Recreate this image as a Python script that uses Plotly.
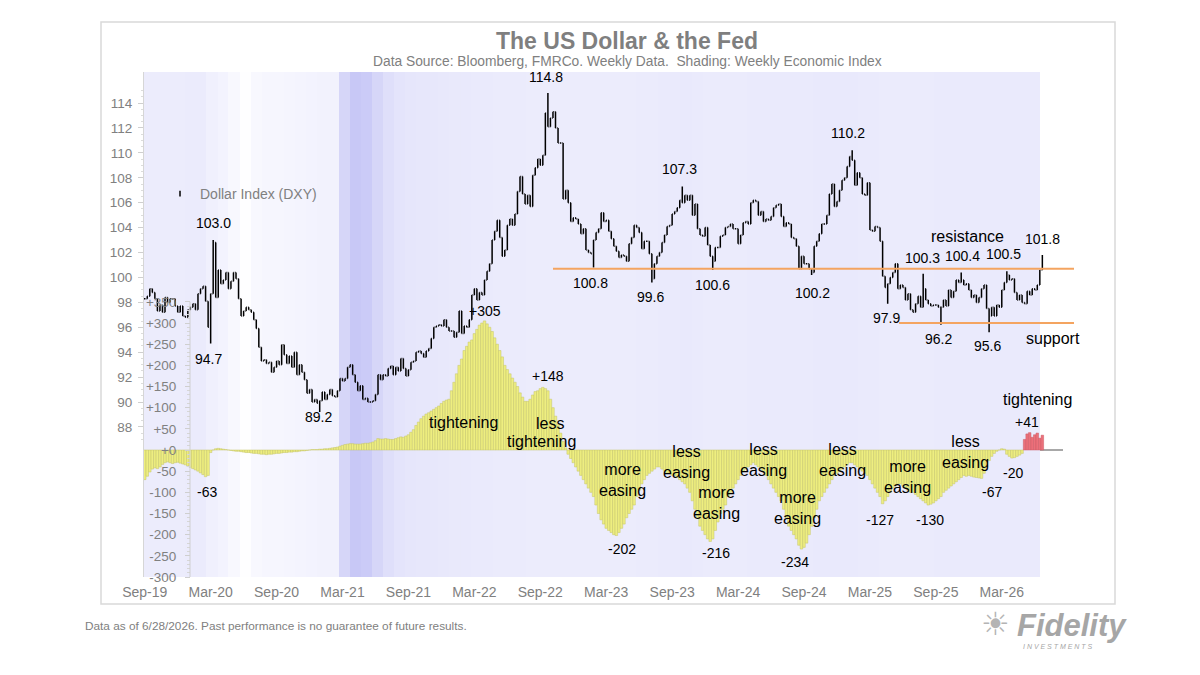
import plotly.graph_objects as go
import pandas as pd

# ---------------- DATA ----------------
# Dollar Index (DXY) weekly closes, week ending Fridays from 2019-09-13
dxy_2019 = [98.3, 98.5, 99.1, 98.8, 98.3, 97.3, 97.8, 97.2, 98.4, 98.0, 98.3, 98.3,
            97.7, 97.2, 97.7, 96.9]
dxy_2020 = [96.8, 97.4, 97.6, 97.9, 97.4, 98.7, 99.1, 99.3, 98.1, 96.0, 98.7, 102.8, 98.4,
            100.6, 99.5, 99.8, 100.4, 99.1, 99.7, 100.4, 99.9, 98.3, 96.9, 97.3, 97.6, 97.4,
            97.2, 96.6, 95.9, 94.4, 93.3, 93.4, 93.1, 93.2, 92.4, 92.8, 93.3, 93.0, 94.6,
            93.8, 93.1, 93.7, 92.8, 94.0, 92.2, 93.0, 92.4, 91.8, 90.7, 91.0, 90.0, 90.2]
dxy_2021 = [89.9, 90.1, 90.8, 90.2, 90.6, 91.0, 90.5, 90.4, 90.9, 91.9, 91.7, 91.9, 92.8,
            93.0, 92.2, 91.6, 90.9, 91.3, 90.2, 90.3, 90.0, 90.0, 90.1, 90.6, 92.2, 91.8,
            92.2, 92.1, 92.7, 92.9, 92.2, 92.8, 92.5, 93.5, 92.7, 92.1, 92.6, 93.2, 93.3,
            94.0, 94.1, 93.9, 93.6, 94.1, 94.3, 95.1, 96.0, 96.1, 96.2, 96.1, 96.6, 96.0, 95.7]
dxy_2022 = [95.7, 95.2, 95.6, 97.3, 95.5, 96.1, 96.0, 96.6, 98.6, 99.1, 98.2, 98.8,
            98.6, 99.8, 100.5, 101.1, 103.0, 103.7, 104.6, 103.2, 101.7, 102.2, 104.2, 104.7,
            104.2, 105.1, 106.9, 108.1, 106.7, 105.9, 106.6, 105.7, 108.2, 108.8,
            109.5, 109.0, 109.8, 113.2, 112.1, 112.8, 113.3, 112.0, 110.8, 110.8, 106.3,
            107.0, 106.0, 104.5, 104.8, 104.7, 104.3, 103.5]
dxy_2023 = [103.9, 102.2, 102.0, 101.9, 103.0, 103.6, 103.9, 105.2, 104.5, 104.6, 103.7,
            103.1, 102.5, 102.1, 101.6, 101.8, 101.7, 101.3, 102.7, 103.2, 104.2, 104.0,
            103.6, 102.3, 102.9, 102.9, 101.9, 99.9, 101.1, 101.7, 102.0, 102.8, 103.4,
            104.1, 104.2, 105.1, 105.3, 105.6, 106.2, 106.0, 106.6, 106.2, 106.6, 105.0,
            105.9, 103.9, 103.4, 103.3, 104.0, 102.6, 101.7, 101.3]
dxy_2024 = [102.4, 102.4, 103.3, 103.4, 104.0, 104.1, 104.3, 103.9, 103.9, 102.7, 103.4,
            104.4, 104.5, 104.3, 106.0, 106.2, 106.1, 105.0, 105.3, 104.5, 104.7, 104.6,
            104.9, 105.6, 105.8, 105.9, 104.9, 104.1, 104.4, 104.3, 103.2, 103.1, 102.5,
            100.7, 101.7, 101.1, 101.1, 100.7, 100.4, 102.5, 102.9, 103.5, 104.3, 104.3,
            105.0, 106.7, 107.5, 105.7, 106.1, 107.0, 107.8, 108.0]
dxy_2025 = [108.9, 109.7, 109.4, 107.4, 108.4, 108.0, 106.7, 106.6, 107.6, 103.8, 103.7,
            104.1, 104.0, 102.9, 100.1, 99.2, 99.5, 100.0, 100.4, 101.1, 99.1, 99.4, 99.2,
            98.2, 98.7, 97.4, 97.2, 97.9, 98.5, 97.6, 99.1, 98.2, 97.9, 97.7, 97.8, 97.8,
            97.6, 97.6, 98.2, 97.7, 99.0, 98.4, 98.9, 99.8, 99.6, 99.8, 99.4, 99.5, 99.0,
            98.4, 98.6, 98.0]
dxy_2026 = [98.4, 99.1, 99.4, 97.5, 96.9, 97.6, 96.9, 97.8, 97.6, 99.0, 99.6, 100.2, 99.8,
            99.9, 98.8, 98.2, 98.6, 98.0, 97.9, 98.9, 98.6, 99.1, 99.0, 99.4, 100.6, 101.6]

# weekly extremes (labelled highs / lows)
dxy_high_marks = {"2020-03-20": 103.0, "2022-09-30": 114.8, "2023-10-06": 107.3,
                  "2025-01-17": 110.2, "2025-08-01": 100.3, "2025-11-14": 100.4,
                  "2026-03-20": 100.5, "2026-06-26": 101.8}
dxy_low_marks = {"2020-03-13": 94.7, "2021-01-08": 89.2, "2023-02-03": 100.8,
                 "2023-07-14": 99.6, "2023-12-29": 100.6, "2024-09-27": 100.2,
                 "2025-04-25": 97.9, "2025-09-19": 96.2, "2026-01-30": 95.6}

# Fed policy expectations (bps), weekly from 2019-09-13
fed_2019 = [-70, -62, -52, -45, -42, -44, -40, -34, -30, -28, -30, -32, -30, -29, -31, -33]
fed_2020 = [-35, -38, -41, -44, -47, -50, -54, -58, -63, -60, -6, 0, 3, 4, 3, 2, 1,
            0, -1, -2, -3, -3, -4, -5, -6, -6, -7, -8, -8, -9, -10, -10, -11, -10, -10,
            -9, -8, -8, -7, -6, -6, -5, -5, -4, -4, -3, -2, -2, -1, 0, 1, 1]
fed_2021 = [1, 2, 2, 3, 3, 4, 5, 6, 7, 9, 11, 13, 14, 15, 15, 14, 14, 14, 15, 16, 16, 17,
            19, 22, 27, 26, 26, 27, 26, 25, 25, 27, 29, 31, 30, 33, 36, 42, 48,
            58, 66, 74, 80, 85, 88, 92, 96, 100, 104, 110, 115, 118, 120]
fed_2022 = [140, 160, 180, 200, 215, 235, 245, 255, 260, 275, 285, 295, 300, 305, 298, 290,
            280, 265, 250, 235, 220, 200, 190, 180, 170, 160, 150, 135, 125, 115, 115, 120,
            130, 138, 140, 145, 148, 145, 140, 120, 100, 80, 60, 40, 20, 5, -10,
            -20, -30, -40, -50, -60]
fed_2023 = [-70, -80, -90, -100, -110, -130, -150, -165, -175, -185, -190, -195, -200,
            -202, -195, -185, -175, -160, -150, -140, -130, -110, -95, -80, -70, -60,
            -55, -50, -45, -40, -40, -45, -50, -55, -55, -60, -60, -65, -70,
            -75, -80, -90, -100, -120, -140, -160, -180, -190, -200, -210, -216, -210]
fed_2024 = [-190, -170, -150, -140, -130, -110, -100, -90, -80, -70, -60, -50, -45,
            -40, -35, -30, -35, -40, -45, -50, -60, -70, -80, -90, -100, -110,
            -120, -140, -160, -180, -190, -200, -210, -225, -234, -230, -220, -200, -180,
            -160, -140, -120, -110, -100, -90, -80, -70, -60, -55, -50, -45, -40]
fed_2025 = [-35, -30, -30, -35, -40, -45, -50, -55, -60, -70, -80, -90, -100,
            -110, -127, -120, -110, -100, -90, -85, -80, -80, -85, -90, -95, -100,
            -100, -105, -110, -115, -120, -125, -130, -128, -125, -120, -115, -110, -100,
            -95, -90, -85, -80, -75, -70, -65, -60, -62, -60, -62, -64, -65]
fed_2026 = [-66, -67, -55, -40, -25, -15, -8, -3, 0, 3, 2, -10, -15, -19, -18, -15, -12,
            -8, 25, 38, 41, 30, 36, 40, 28, 35]
fed_tightening_start = "2026-05-01"

# Weekly Economic Index (monthly average) used for the background shading, Sep-2019 .. Jun-2026
wei_2019 = [1.6, 1.5, 1.5, 1.6]
wei_2020 = [1.8, 1.8, -1.0, -3.0, -6.0, -10.0, -6.0, -4.5, -4.5, -4.0, -3.5, -3.0]
wei_2021 = [-2.5, -2.0, 8.0, 12.0, 11.0, 8.0, 5.5, 4.0, 3.5, 3.0, 3.0, 2.8]
wei_2022 = [2.6, 2.5, 2.3, 2.2, 2.0, 1.9, 1.8, 1.7, 1.7, 1.6, 1.5, 1.5]
wei_2023 = [1.5, 1.4, 1.5, 1.6, 1.7, 1.8, 2.0, 2.2, 2.3, 2.4, 2.2, 2.0]
wei_2024 = [2.0, 1.9, 2.0, 2.1, 2.1, 2.1, 2.2, 2.3, 2.3, 2.4, 2.4, 2.5]
wei_2025 = [2.5, 2.3, 2.1, 2.0, 2.0, 2.0, 2.0, 2.0, 2.1, 2.2, 2.3, 2.3]
wei_2026 = [2.3, 2.2, 2.2, 2.1, 2.1, 2.1]

x_tick_labels = ["Sep-19", "Mar-20", "Sep-20", "Mar-21", "Sep-21", "Mar-22", "Sep-22",
                 "Mar-23", "Sep-23", "Mar-24", "Sep-24", "Mar-25", "Sep-25", "Mar-26"]
dxy_ticks = list(range(88, 115, 2))
fed_ticks = list(range(-300, 351, 50))

# ---------------- BUILD ----------------
dxy_close = dxy_2019 + dxy_2020 + dxy_2021 + dxy_2022 + dxy_2023 + dxy_2024 + dxy_2025 + dxy_2026
fed = fed_2019 + fed_2020 + fed_2021 + fed_2022 + fed_2023 + fed_2024 + fed_2025 + fed_2026
wei = wei_2019 + wei_2020 + wei_2021 + wei_2022 + wei_2023 + wei_2024 + wei_2025 + wei_2026
for name, arr, n in [("2019", dxy_2019, 16), ("2020", dxy_2020, 52), ("2021", dxy_2021, 53),
                     ("2022", dxy_2022, 52), ("2023", dxy_2023, 52), ("2024", dxy_2024, 52),
                     ("2025", dxy_2025, 52), ("2026", dxy_2026, 26),
                     ("f2019", fed_2019, 16), ("f2020", fed_2020, 52), ("f2021", fed_2021, 53),
                     ("f2022", fed_2022, 52), ("f2023", fed_2023, 52), ("f2024", fed_2024, 52),
                     ("f2025", fed_2025, 52), ("f2026", fed_2026, 26)]:
    assert len(arr) == n, (name, len(arr))

weeks = pd.date_range("2019-09-13", periods=len(dxy_close), freq="W-FRI")
dxy_open = [dxy_close[0]] + dxy_close[:-1]
dxy_high = [max(o, c) for o, c in zip(dxy_open, dxy_close)]
dxy_low = [min(o, c) for o, c in zip(dxy_open, dxy_close)]
for d, v in dxy_high_marks.items():
    i = weeks.get_loc(pd.Timestamp(d))
    dxy_high[i] = max(dxy_high[i], v)
for d, v in dxy_low_marks.items():
    i = weeks.get_loc(pd.Timestamp(d))
    dxy_low[i] = min(dxy_low[i], v)

fed_colors = ["rgb(236,112,122)" if (w >= pd.Timestamp(fed_tightening_start) and v > 0)
              else "rgb(238,238,128)" for w, v in zip(weeks, fed)]
fed_lines = ["rgb(205,90,100)" if (w >= pd.Timestamp(fed_tightening_start) and v > 0)
             else "rgb(196,196,104)" for w, v in zip(weeks, fed)]

month_edges = (["2019-09-11"] + [d.strftime("%Y-%m-%d") for d in
               pd.date_range("2019-10-01", "2026-06-01", freq="MS")] + ["2026-06-19"])
tick_dates = pd.date_range("2019-09-13", periods=len(x_tick_labels), freq="182D")

FONT = "Arial, 'Liberation Sans', sans-serif"
GRAY = "#808080"
L, R, T, B = 144, 1063, 72, 577


def px(x, y):
    return (x - L) / (R - L), (B - y) / (B - T)


fig = go.Figure()
fig.add_trace(go.Heatmap(
    x=month_edges, y=[0, 1], z=[wei], zmin=-11, zmax=12, showscale=False,
    colorscale=[[0, "#ffffff"], [0.3, "#f5f5fe"], [0.55, "#ececfc"], [0.7, "#e0e0fa"],
                [1, "#c8c8f6"]],
    hoverinfo="skip", xaxis="x", yaxis="y"))
fig.add_trace(go.Bar(
    x=weeks, y=fed, width=7 * 24 * 3600 * 1000, yaxis="y2", showlegend=False,
    marker=dict(color=fed_colors, line=dict(color=fed_lines, width=0.5)), name="Fed"))
fig.add_trace(go.Ohlc(
    x=weeks, open=dxy_open, high=dxy_high, low=dxy_low, close=dxy_close, yaxis="y3",
    name="Dollar Index (DXY)", showlegend=False, tickwidth=0.3, legendgroup="dxy",
    increasing=dict(line=dict(color="black", width=1.5)),
    decreasing=dict(line=dict(color="black", width=1.5))))
# legend entry for the DXY bars (small tick symbol, as in the original)
fig.add_trace(go.Scatter(
    x=[None], y=[None], mode="markers", yaxis="y3", name="Dollar Index (DXY)",
    legendgroup="dxy", showlegend=True,
    marker=dict(symbol="line-ns", size=4, color="black", line=dict(color="black", width=1.5))))

shapes = []
# fed axis line
fx = (190 - L) / (R - L)
shapes.append(dict(type="line", xref="paper", yref="y2", x0=fx, x1=fx, y0=-300, y1=350,
                   line=dict(color="#cfcfcf", width=1)))
# resistance / support
x_res0, _ = px(553, 0)
x_sup0, _ = px(899, 0)
x_end, _ = px(1074, 0)
shapes.append(dict(type="line", xref="paper", yref="y3", x0=x_res0, x1=x_end, y0=100.7, y1=100.7,
                   line=dict(color="rgb(244,164,96)", width=2)))
shapes.append(dict(type="line", xref="paper", yref="y3", x0=x_sup0, x1=x_end, y0=96.35, y1=96.35,
                   line=dict(color="rgb(244,164,96)", width=2)))
# outer frame
fx0, fy0 = px(101, 604)
fx1, fy1 = px(1115, 22)
shapes.append(dict(type="rect", xref="paper", yref="paper", x0=fx0, x1=fx1, y0=fy0, y1=fy1,
                   line=dict(color="#d9d9d9", width=1.5), layer="below"))

ann = []


def label(text, x, y, size=14, color="black", bold=False, italic=False, xanchor="center"):
    ax, ay = px(x, y)
    ann.append(dict(text=text, x=ax, y=ay, xref="paper", yref="paper", showarrow=False,
                    xanchor=xanchor, yanchor="middle",
                    font=dict(family=FONT, size=size, color=color,
                              weight="bold" if bold else "normal",
                              style="italic" if italic else "normal")))


for t, x, y in [("114.8", 546, 77), ("103.0", 213, 223), ("94.7", 208, 359), ("89.2", 318, 417),
                ("100.8", 590, 283), ("99.6", 650, 297), ("100.6", 712, 285), ("100.2", 812, 293),
                ("107.3", 679, 169), ("110.2", 848, 133), ("100.3", 922, 258), ("100.4", 962, 256),
                ("100.5", 1003, 254), ("101.8", 1042, 239), ("97.9", 886, 318), ("96.2", 938, 339),
                ("95.6", 987, 346), ("+305", 485, 311), ("+148", 548, 376), ("-63", 207, 492),
                ("-202", 622, 549), ("-216", 716, 553), ("-234", 795, 562), ("-127", 880, 520),
                ("-130", 930, 520), ("-67", 992, 492), ("-20", 1013, 473), ("+41", 1027, 422)]:
    label(t, x, y, 14)

for t, x, y in [("resistance", 967, 237), ("support", 1053, 338), ("tightening", 463, 422),
                ("less", 550, 423), ("tightening", 541, 441), ("more<br>easing", 622, 480),
                ("less<br>easing", 686, 462), ("more<br>easing", 716, 503),
                ("less<br>easing", 763, 460), ("more<br>easing", 797, 508),
                ("less<br>easing", 842, 460), ("more<br>easing", 907, 477),
                ("less<br>easing", 965, 452), ("tightening", 1037, 399)]:
    label(t, x, y, 16)

label("The US Dollar &amp; the Fed", 627, 41, 23, "#7f7f7f", bold=True)
label("Data Source: Bloomberg, FMRCo. Weekly Data.\u00a0\u00a0Shading: Weekly Economic Index",
      627, 62, 13.8, GRAY)
label("Data as of 6/28/2026. Past performance is no guarantee of future results.", 83, 626, 11.8,
      GRAY, xanchor="left")
label("\u2600", 995, 624, 32, "#b4b4b4")
label("Fidelity", 1072, 625, 31, "#a6a6a6", bold=True, italic=True)
label("I N V E S T M E N T S", 1058, 646, 7, "#a6a6a6", italic=True)

fig.update_layout(
    width=1200, height=675, paper_bgcolor="white", plot_bgcolor="white",
    margin=dict(l=L, r=1200 - R, t=T, b=675 - B, pad=0),
    font=dict(family=FONT, color=GRAY),
    showlegend=True,
    legend=dict(x=px(160, 0)[0], y=px(0, 194)[1], xanchor="left", yanchor="middle",
                bgcolor="rgba(0,0,0,0)", font=dict(size=14, color=GRAY, family=FONT)),
    xaxis=dict(type="date", range=["2019-09-11", "2026-08-22"], tickvals=tick_dates,
               ticktext=x_tick_labels, showgrid=False, showline=False, zeroline=False,
               ticks="", ticklabelstandoff=5, tickfont=dict(size=14, color=GRAY),
               rangeslider=dict(visible=False)),
    yaxis=dict(range=[0, 1], visible=False, fixedrange=True),
    yaxis2=dict(overlaying="y", anchor="free", position=fx, side="left", range=[-300, 893],
                tickvals=fed_ticks,
                ticktext=[("+" if v >= 0 else "") + str(v) for v in fed_ticks],
                ticks="outside", ticklen=5, tickcolor="#cfcfcf", showgrid=False, showline=False,
                zeroline=True, zerolinecolor="#a8a8a8", zerolinewidth=1.5, ticklabelstandoff=6,
                tickfont=dict(size=13.5, color=GRAY),
                minor=dict(tickmode="array", tickvals=list(range(-300, 351, 10)), ticks="outside",
                           ticklen=3, tickcolor="#d6d6d6")),
    yaxis3=dict(overlaying="y", anchor="x", side="left", range=[75.96, 116.49],
                tickvals=dxy_ticks, ticks="outside", ticklen=5, tickcolor="#cfcfcf",
                showgrid=False, showline=True, linecolor="#d6d6d6", zeroline=False,
                ticklabelstandoff=3, tickfont=dict(size=13.5, color=GRAY),
                minor=dict(tickmode="array", tickvals=[v / 2 for v in range(174, 231)],
                           ticks="outside", ticklen=2, tickcolor="#dcdcdc")),
    shapes=shapes, annotations=ann,
)

fig.write_html("out.html")
